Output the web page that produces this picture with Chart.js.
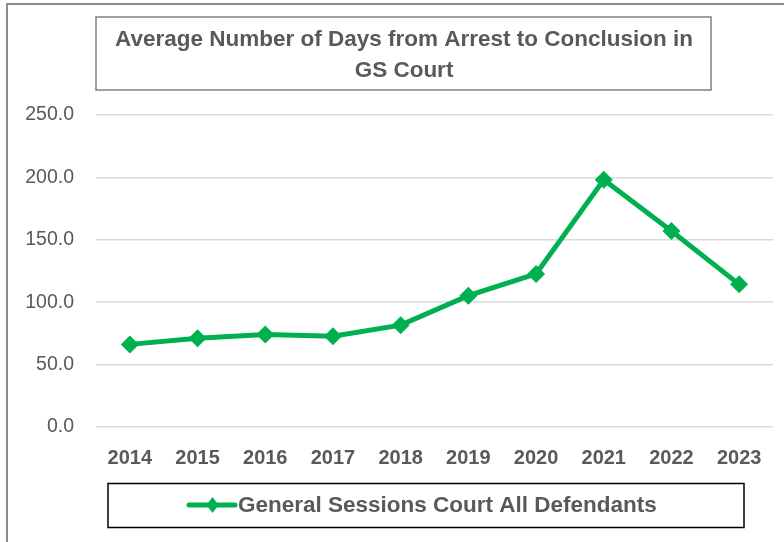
<!DOCTYPE html>
<html>
<head>
<meta charset="utf-8">
<script src="https://cdn.jsdelivr.net/npm/chart.js@4"></script>
<style>
  html, body { margin: 0; padding: 0; background: #fff; }
  #wrap { width: 784px; height: 542px; }
</style>
</head>
<body>
<div id="wrap"><canvas id="gsChart" width="784" height="542"></canvas></div>
<script>
// ---- data ----
const years = ["2014", "2015", "2016", "2017", "2018", "2019", "2020", "2021", "2022", "2023"];
const avgDays = [66.2, 71.2, 74.2, 72.8, 81.6, 105.2, 122.6, 198.1, 157.1, 114.3];
const yTicks = [0, 50, 100, 150, 200, 250];
const titleLines = ["Average Number of Days from Arrest to Conclusion in", "GS Court"];
const seriesName = "General Sessions Court All Defendants";

const green = "#00B050";
const grayText = "#595959";
const fontFam = "'Liberation Sans', Arial, sans-serif";

// --- boxes for title + legend (Excel style) ---
const boxesPlugin = {
  id: "boxes",
  afterDraw(chart) {
    const c = chart.ctx;
    c.save();
    // outer chart border
    c.strokeStyle = "#8c8c8c";
    c.lineWidth = 2;
    c.beginPath();
    c.moveTo(7, 545);
    c.lineTo(7, 4);
    c.lineTo(790, 4);
    c.stroke();

    // title box
    c.strokeStyle = "#808080";
    c.lineWidth = 1.5;
    c.strokeRect(96, 17, 615, 73);
    c.fillStyle = grayText;
    c.font = "bold 22.5px " + fontFam;
    c.textAlign = "center";
    c.textBaseline = "middle";
    c.fillText(titleLines[0], 404, 40);
    c.fillText(titleLines[1], 404, 71);

    // legend box
    c.strokeStyle = "#000";
    c.lineWidth = 1.5;
    c.strokeRect(108, 483.5, 636, 44);
    c.strokeStyle = green;
    c.lineWidth = 5;
    c.lineCap = "round";
    c.beginPath();
    c.moveTo(189, 505);
    c.lineTo(235, 505);
    c.stroke();
    c.fillStyle = green;
    c.beginPath();
    c.moveTo(212.5, 497);
    c.lineTo(218.5, 505);
    c.lineTo(212.5, 513);
    c.lineTo(206.5, 505);
    c.closePath();
    c.fill();
    c.fillStyle = grayText;
    c.font = "bold 22.5px " + fontFam;
    c.textAlign = "left";
    c.fillText(seriesName, 238, 506);
    c.restore();
  }
};

const ctx = document.getElementById("gsChart");
new Chart(ctx, {
  type: "line",
  data: {
    labels: years,
    datasets: [{
      label: seriesName,
      data: avgDays,
      borderColor: green,
      backgroundColor: green,
      borderWidth: 5,
      pointStyle: "rectRot",
      pointRadius: 9,
      pointHoverRadius: 9,
      pointBorderWidth: 0,
      tension: 0
    }]
  },
  options: {
    responsive: false,
    animation: false,
    devicePixelRatio: 1,
    layout: { padding: { top: 115, right: 11, left: 0, bottom: 0 } },
    plugins: {
      legend: { display: false },
      title: { display: false },
      tooltip: { enabled: false }
    },
    scales: {
      x: {
        offset: true,
        grid: { display: false, drawTicks: false },
        border: { display: false },
        ticks: {
          color: grayText,
          font: { family: fontFam, size: 20, weight: "bold" },
          padding: 19,
          maxRotation: 0
        },
        afterFit(scale) { scale.height = 115; }
      },
      y: {
        min: 0,
        max: 250,
        afterBuildTicks(scale) { scale.ticks = yTicks.map(v => ({ value: v })); },
        grid: { color: "#d9d9d9", lineWidth: 1.5, drawTicks: false },
        border: { display: false },
        ticks: {
          color: grayText,
          font: { family: fontFam, size: 19.5 },
          padding: 22,
          callback: (v) => Number(v).toFixed(1)
        },
        afterFit(scale) { scale.width = 96; }
      }
    }
  },
  plugins: [boxesPlugin]
});
</script>
</body>
</html>
